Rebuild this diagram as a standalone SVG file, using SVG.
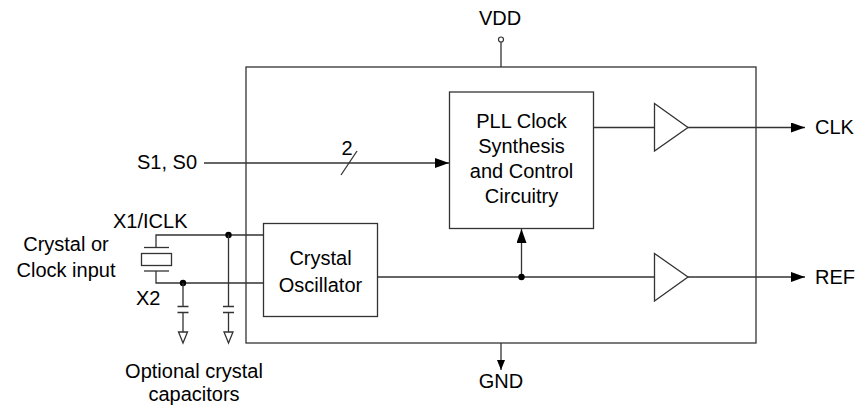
<svg xmlns="http://www.w3.org/2000/svg" width="859" height="408" viewBox="0 0 859 408">
<defs>
<marker id="ah" markerWidth="14" markerHeight="10" refX="14" refY="5" orient="auto" markerUnits="userSpaceOnUse">
<path d="M0,0 L14,5 L0,10 Z" fill="#000"/>
</marker>
<marker id="ahs" markerWidth="10" markerHeight="8" refX="10" refY="4" orient="auto" markerUnits="userSpaceOnUse">
<path d="M0,0 L10,4 L0,8 Z" fill="#000"/>
</marker>
</defs>
<style>
.w{stroke:#333;stroke-width:1.3;fill:none}
.b{stroke:#333;stroke-width:1.3;fill:#fff}
.t{font-family:"Liberation Sans",Arial,sans-serif;font-size:20px;fill:#000}
.m{text-anchor:middle}
.d{fill:#000}
</style>
<g id="chip"><rect class="w" x="246" y="67" width="510" height="276"/></g>
<g id="pll">
<rect class="b" x="449.5" y="92" width="144" height="136.5"/>
<text class="t m" x="521.5" y="128">PLL Clock</text>
<text class="t m" x="521.5" y="153">Synthesis</text>
<text class="t m" x="521.5" y="178">and Control</text>
<text class="t m" x="521.5" y="203">Circuitry</text>
</g>
<g id="osc">
<rect class="b" x="263.5" y="223.5" width="114" height="93"/>
<text class="t m" x="320.5" y="265">Crystal</text>
<text class="t m" x="320.5" y="292">Oscillator</text>
</g>
<g id="buf-clk"><path class="b" d="M654.5,103.5 L688,127.5 L654.5,151 Z"/></g>
<g id="buf-ref"><path class="b" d="M654.5,253.5 L688,277 L654.5,301 Z"/></g>
<g id="crystal">
<rect class="b" x="141.5" y="253.5" width="30" height="12"/>
<line class="w" x1="144" y1="247.5" x2="169" y2="247.5"/>
<line class="w" x1="144" y1="271" x2="169" y2="271"/>
</g>
<g id="labels">
<text class="t m" x="500" y="25">VDD</text>
<text class="t m" x="501" y="388">GND</text>
<text class="t" x="137" y="169">S1, S0</text>
<text class="t m" x="347" y="155">2</text>
<text class="t" x="815" y="134">CLK</text>
<text class="t" x="815" y="284">REF</text>
<text class="t" x="113" y="228">X1/ICLK</text>
<text class="t" x="136" y="305">X2</text>
<text class="t m" x="66" y="251">Crystal or</text>
<text class="t m" x="66" y="277">Clock input</text>
<text class="t m" x="194" y="378">Optional crystal</text>
<text class="t m" x="194" y="401">capacitors</text>
</g>
<g id="connectors">
<circle cx="501" cy="39.5" r="2.5" fill="#fff" stroke="#333" stroke-width="1.2"/>
<line class="w" x1="501" y1="42" x2="501" y2="67"/>
<line class="w" x1="501" y1="343" x2="501" y2="370" marker-end="url(#ahs)"/>
<line class="w" x1="204" y1="163" x2="449" y2="163" marker-end="url(#ah)"/>
<line class="w" x1="341" y1="175" x2="357" y2="151"/>
<line class="w" x1="593.5" y1="127.5" x2="654.5" y2="127.5"/>
<line class="w" x1="688" y1="127.5" x2="805" y2="127.5" marker-end="url(#ah)"/>
<line class="w" x1="377.5" y1="277" x2="654.5" y2="277"/>
<line class="w" x1="688" y1="277" x2="805" y2="277" marker-end="url(#ah)"/>
<line class="w" x1="521.5" y1="277" x2="521.5" y2="229" marker-end="url(#ah)"/>
<circle class="d" cx="521.5" cy="277" r="3.2"/>
<path class="w" d="M156,247.5 V235 H263.5"/>
<path class="w" d="M156,271 V283 H263.5"/>
<circle class="d" cx="228.5" cy="235" r="3.2"/>
<circle class="d" cx="183" cy="283" r="3.2"/>
<path class="w" d="M183,283 V306.5 M177.5,306.5 H188.5 M177.5,312.5 H188.5 M183,312.5 V332"/>
<path class="w" d="M178.5,332 H187.5 L183,343 Z"/>
<path class="w" d="M228.5,235 V306.5 M223,306.5 H234 M223,312.5 H234 M228.5,312.5 V332"/>
<path class="w" d="M224,332 H233 L228.5,343 Z"/>
</g>
</svg>
